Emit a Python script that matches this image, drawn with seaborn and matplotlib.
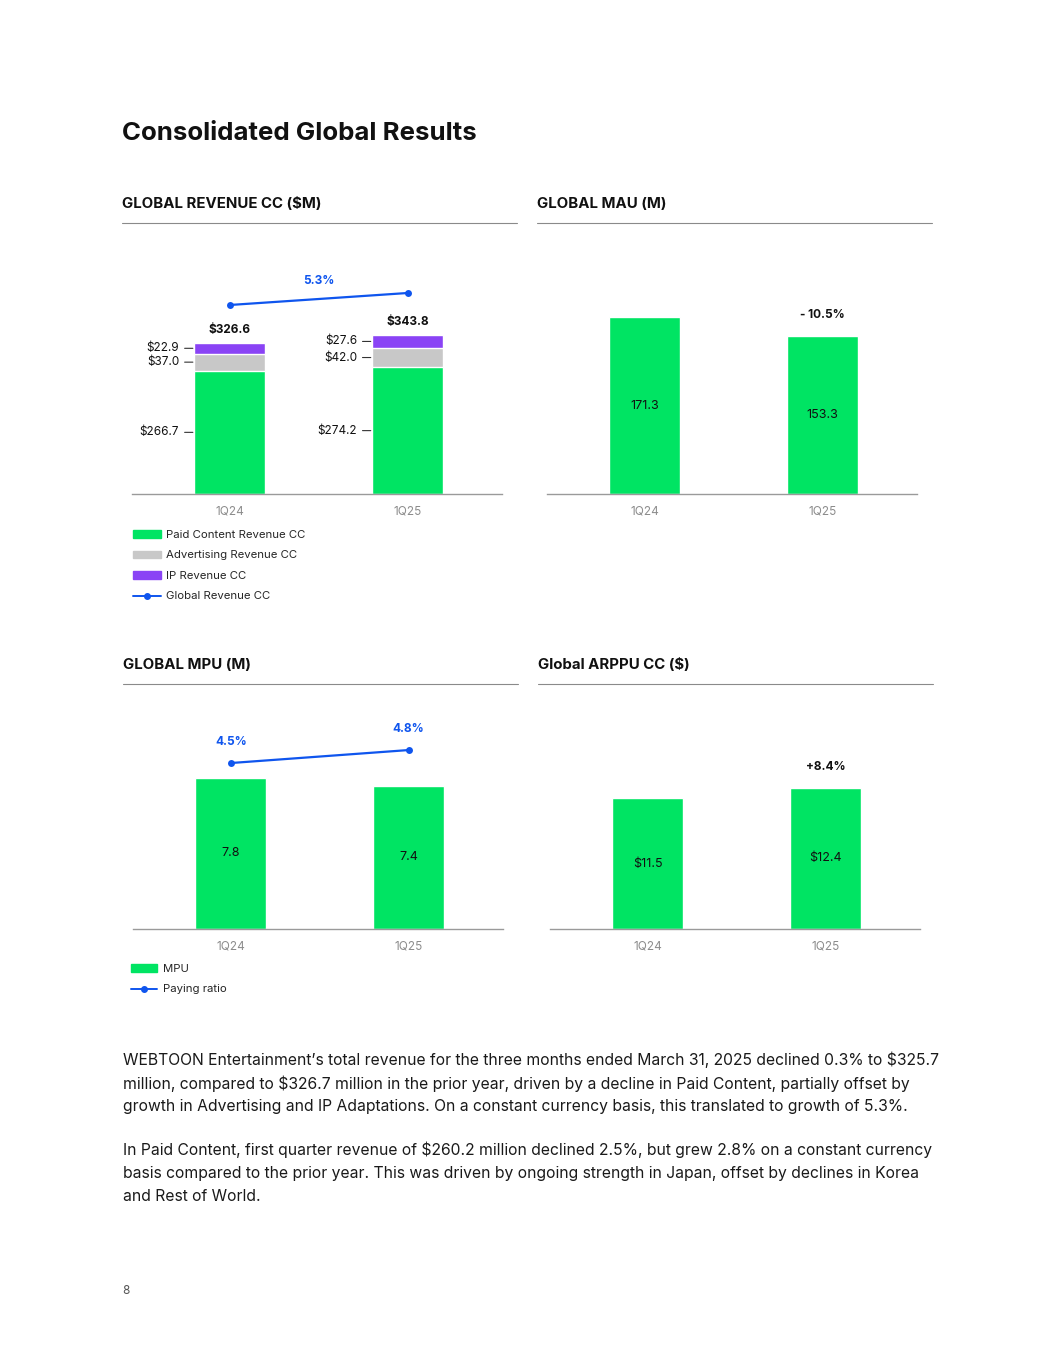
import matplotlib
matplotlib.use("Agg")
import matplotlib.pyplot as plt
from matplotlib.patches import Patch
from matplotlib.lines import Line2D
import seaborn as sns
import pandas as pd

# data
quarters = ["1Q24", "1Q25"]
paid_content = [266.7, 274.2]
advertising = [37.0, 42.0]
ip_revenue = [22.9, 27.6]
global_revenue = [326.6, 343.8]
revenue_growth = "5.3%"
mau = [171.3, 153.3]
mau_change = "- 10.5%"
mpu = [7.8, 7.4]
paying_ratio = [4.5, 4.8]
arppu = [11.5, 12.4]
arppu_change = "+8.4%"

GREEN = "#00E463"
GRAY = "#C8C8C8"
PURPLE = "#8A43F5"
BLUE = "#0F55EE"
DARK = "#111111"
TICK = "#8C8C8C"

sns.set_style("white")
plt.rcParams["font.family"] = ["Inter", "DejaVu Sans"]
plt.rcParams["text.parse_math"] = False

W, H = 1055, 1365
fig = plt.figure(figsize=(W / 100, H / 100), dpi=100)


def box(x0, y0, x1, y1):
    return [x0 / W, 1 - y1 / H, (x1 - x0) / W, (y1 - y0) / H]


def fx(x):
    return x / W


def fy(y):
    return 1 - y / H


def style_axis(ax, top):
    ax.set_ylim(0, top)
    ax.set_xlim(-0.55, 1.53)
    for s in ["left", "right", "top"]:
        ax.spines[s].set_visible(False)
    ax.spines["bottom"].set_color("#9A9A9A")
    ax.spines["bottom"].set_linewidth(1.0)
    ax.set_yticks([])
    ax.set_xlabel("")
    ax.set_ylabel("")
    ax.tick_params(axis="x", length=0, pad=8, labelsize=8.5, labelcolor=TICK)


def heading(text, x0, x1, y):
    fig.text(fx(x0), fy(y), text, fontsize=10.8, fontweight="bold", color=DARK,
             ha="left", va="center")
    fig.add_artist(Line2D([fx(x0), fx(x1)], [fy(y + 19), fy(y + 19)],
                          color="#8A8A8A", lw=0.8))


# page title
fig.text(fx(122), fy(134), "Consolidated Global Results", fontsize=18.6,
         fontweight="bold", color=DARK, ha="left", va="center")

heading("GLOBAL REVENUE CC ($M)", 122, 517, 204)
heading("GLOBAL MAU (M)", 537, 932, 204)
heading("GLOBAL MPU (M)", 123, 518, 665)
heading("Global ARPPU CC ($)", 538, 933, 665)

# ---- revenue (stacked) ----
rev = pd.DataFrame({"quarter": quarters,
                    "paid": paid_content,
                    "paid_ad": [p + a for p, a in zip(paid_content, advertising)],
                    "total": [p + a + i for p, a, i in zip(paid_content, advertising, ip_revenue)]})
ax = fig.add_axes(box(132, 250, 502, 494))
sns.barplot(data=rev, x="quarter", y="total", color=PURPLE, width=0.4,
            saturation=1, ax=ax, order=quarters)
sns.barplot(data=rev, x="quarter", y="paid_ad", color=GRAY, width=0.4,
            saturation=1, ax=ax, order=quarters)
sns.barplot(data=rev, x="quarter", y="paid", color=GREEN, width=0.4,
            saturation=1, ax=ax, order=quarters)
style_axis(ax, 244 / 0.4623)

for i in range(len(quarters)):
    lows = [0, rev["paid"][i], rev["paid_ad"][i]]
    highs = [rev["paid"][i], rev["paid_ad"][i], rev["total"][i]]
    vals = [paid_content[i], advertising[i], ip_revenue[i]]
    for lo, hi, v in zip(lows, highs, vals):
        ax.annotate(f"${v:.1f}", xy=(i - 0.2, (lo + hi) / 2),
                    xytext=(-15, 0), textcoords="offset pixels",
                    ha="right", va="center", fontsize=8.5, color=DARK,
                    arrowprops=dict(arrowstyle="-", color="#333333", lw=0.8,
                                    shrinkA=1.5, shrinkB=1.0))
    ax.annotate(f"${global_revenue[i]:.1f}", xy=(i, rev["total"][i]),
                xytext=(0, 13), textcoords="offset pixels", ha="center",
                va="center", fontsize=8.5, fontweight="bold", color=DARK)

ax2 = ax.twinx()
sns.lineplot(x=[0, 1], y=global_revenue, color=BLUE, marker="o", markersize=5,
             markeredgewidth=0, lw=1.6, ax=ax2)
ax2.set_ylim(55.7, 55.7 + 244 / 0.6977)
ax2.axis("off")
ax2.annotate(revenue_growth, xy=(0.5, sum(global_revenue) / 2),
             xytext=(0, 18), textcoords="offset pixels", ha="center",
             va="center", fontsize=8.5, fontweight="bold", color=BLUE)
ax.set_xlim(-0.55, 1.53)

fig.legend(handles=[Patch(color=GREEN, label="Paid Content Revenue CC"),
                    Patch(color=GRAY, label="Advertising Revenue CC"),
                    Patch(color=PURPLE, label="IP Revenue CC"),
                    Line2D([], [], color=BLUE, marker="o", markersize=4,
                           lw=1.4, label="Global Revenue CC")],
           loc="upper left", bbox_to_anchor=(fx(133), fy(530)), frameon=False,
           fontsize=8.2, handlelength=2.45, handleheight=0.6, handletextpad=0.45,
           labelspacing=0.92, borderaxespad=0, borderpad=0)

# ---- MAU ----
df_mau = pd.DataFrame({"quarter": quarters, "value": mau})
ax = fig.add_axes(box(547, 250, 917, 494))
sns.barplot(data=df_mau, x="quarter", y="value", color=GREEN, width=0.4,
            saturation=1, ax=ax, order=quarters)
style_axis(ax, 244 / 1.033)
for i, v in enumerate(mau):
    ax.text(i, v / 2, f"{v:.1f}", ha="center", va="center", fontsize=9, color=DARK)
ax.annotate(mau_change, xy=(1, mau[1]), xytext=(0, 21), textcoords="offset pixels",
            ha="center", va="center", fontsize=8.5, fontweight="bold", color=DARK)

# ---- MPU ----
df_mpu = pd.DataFrame({"quarter": quarters, "value": mpu})
ax = fig.add_axes(box(133, 700, 503, 929))
sns.barplot(data=df_mpu, x="quarter", y="value", color=GREEN, width=0.4,
            saturation=1, ax=ax, order=quarters)
style_axis(ax, 229 / 19.36)
for i, v in enumerate(mpu):
    ax.text(i, v / 2, f"{v:.1f}", ha="center", va="center", fontsize=9, color=DARK)
ax2 = ax.twinx()
sns.lineplot(x=[0, 1], y=paying_ratio, color=BLUE, marker="o", markersize=5,
             markeredgewidth=0, lw=1.6, ax=ax2)
ax2.set_ylim(0.667, 0.667 + 229 / 43.3)
ax2.axis("off")
for i, v in enumerate(paying_ratio):
    ax2.annotate(f"{v:.1f}%", xy=(i, v), xytext=(0, 21), textcoords="offset pixels",
                 ha="center", va="center", fontsize=8.5, fontweight="bold", color=BLUE)
ax.set_xlim(-0.55, 1.53)

fig.legend(handles=[Patch(color=GREEN, label="MPU"),
                    Line2D([], [], color=BLUE, marker="o", markersize=4,
                           lw=1.4, label="Paying ratio")],
           loc="upper left", bbox_to_anchor=(fx(131), fy(964)), frameon=False,
           fontsize=8.2, handlelength=2.3, handleheight=0.6, handletextpad=0.5,
           labelspacing=0.92, borderaxespad=0, borderpad=0)

# ---- ARPPU ----
df_arppu = pd.DataFrame({"quarter": quarters, "value": arppu})
ax = fig.add_axes(box(550, 700, 920, 929))
sns.barplot(data=df_arppu, x="quarter", y="value", color=GREEN, width=0.4,
            saturation=1, ax=ax, order=quarters)
style_axis(ax, 229 / 11.39)
for i, v in enumerate(arppu):
    ax.text(i, v / 2, f"${v:.1f}", ha="center", va="center", fontsize=9, color=DARK)
ax.annotate(arppu_change, xy=(1, arppu[1]), xytext=(0, 21), textcoords="offset pixels",
            ha="center", va="center", fontsize=8.5, fontweight="bold", color=DARK)

# ---- body text ----
para1 = ["WEBTOON Entertainment\u2019s total revenue for the three months ended March 31, 2025 declined 0.3% to $325.7",
         "million, compared to $326.7 million in the prior year, driven by a decline in Paid Content, partially offset by",
         "growth in Advertising and IP Adaptations. On a constant currency basis, this translated to growth of 5.3%."]
para2 = ["In Paid Content, first quarter revenue of $260.2 million declined 2.5%, but grew 2.8% on a constant currency",
         "basis compared to the prior year. This was driven by ongoing strength in Japan, offset by declines in Korea",
         "and Rest of World."]
for lines, y0 in [(para1, 1060), (para2, 1150)]:
    for k, line in enumerate(lines):
        fig.text(fx(123), fy(y0 + k * 23.3), line, fontsize=11.3, color="#1A1A1A",
                 ha="left", va="center")

fig.text(fx(122), fy(1291), "8", fontsize=8.5, color="#555555", ha="left", va="center")

fig.savefig("out.png", dpi=100, facecolor="white")
